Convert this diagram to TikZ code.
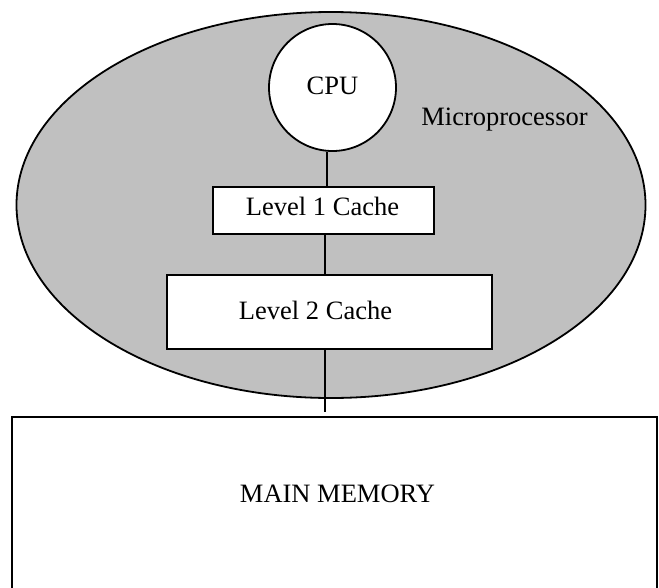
\documentclass[tikz,border=0pt]{standalone}
\usepackage{fontspec}
\setmainfont{Liberation Serif}
\usetikzlibrary{shapes.geometric}
\definecolor{chipgray}{HTML}{C0C0C0}
\tikzset{
  outline/.style={draw=black, line width=1.8pt},
  wire/.style={draw=black, line width=1.5pt},
  boxshape/.style={outline, fill=white, rectangle, inner sep=0pt},
  caption/.style={inner sep=0pt, anchor=base, font=\fontsize{26.5}{30}\selectfont},
}
\begin{document}
\begin{tikzpicture}[x=1pt, y=-1pt]
  \useasboundingbox (0,0) rectangle (659,587);

  % microprocessor package
  \node[outline, fill=chipgray, ellipse, inner sep=0pt,
        minimum width=629pt, minimum height=386pt] (micro) at (331,205) {};
  \node[caption] (microtxt) at (504.5,125) {Microprocessor};

  % processor core and caches
  \node[outline, fill=white, circle, inner sep=0pt, minimum size=127pt] (cpu) at (332.5,87.5) {};
  \node[caption] (cputxt) at (332.5,94) {CPU};

  \node[boxshape, minimum width=221pt, minimum height=47pt] (l1) at (323.5,210.5) {};
  \node[caption] (l1txt) at (322.5,215) {Level 1 Cache};

  \node[boxshape, minimum width=325pt, minimum height=74pt] (l2) at (329.5,312) {};
  \node[caption] (l2txt) at (315.5,319) {Level 2 Cache};

  % main memory (runs off the lower edge)
  \node[boxshape, anchor=north, minimum width=644.5pt, minimum height=200pt] (mem) at (334.4,416) {};
  \node[caption] (memtxt) at (337.5,502) {MAIN MEMORY};

  % buses
  \draw[wire] ([xshift=-5.5pt]cpu.south) -- ([xshift=-5.5pt]cpu.south |- l1.north);
  \draw[wire] ([xshift=1.5pt]l1.south) -- ([xshift=1.5pt]l1.south |- l2.north);
  \coordinate (memtap) at ([yshift=4pt]mem.north -| l2txt);
  \draw[wire] (l2.south -| 325,0) -- (memtap -| 325,0);
\end{tikzpicture}
\end{document}
